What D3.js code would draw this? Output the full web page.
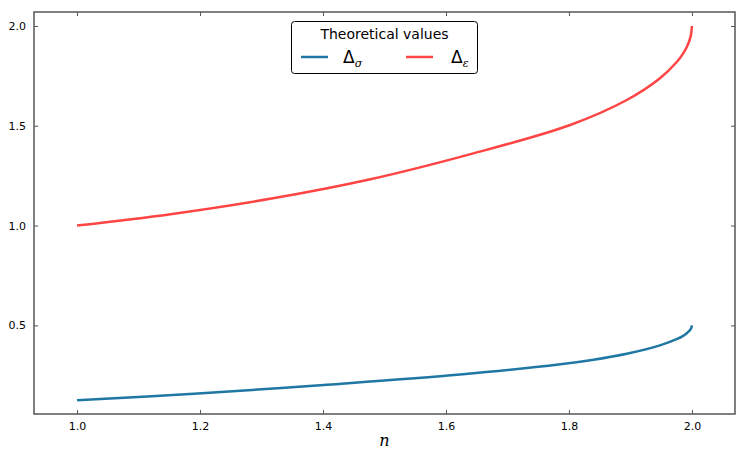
<!DOCTYPE html>
<html>
<head>
<meta charset="utf-8">
<script src="https://cdn.jsdelivr.net/npm/d3@7"></script>
<style>
  body { margin: 0; background: #fff; }
  svg text { font-family: "DejaVu Sans", sans-serif; }
</style>
</head>
<body>
<svg id="chart" width="747" height="462"></svg>
<script>
// values
var nSigma   = [1.0, 1.19, 1.407, 1.623, 1.786, 1.84, 1.894, 1.948, 1.976, 1.985, 1.992, 1.998, 2.0];
var dSigma   = [0.125, 0.157, 0.203, 0.254, 0.305, 0.328, 0.358, 0.400, 0.432, 0.446, 0.462, 0.481, 0.5];
var nEps     = [1.0, 1.152, 1.314, 1.477, 1.64, 1.802, 1.894, 1.948, 1.976, 1.985, 1.992, 1.998, 2.0];
var dEps     = [1.0, 1.057, 1.134, 1.232, 1.358, 1.504, 1.629, 1.738, 1.822, 1.859, 1.897, 1.949, 2.0];
var xTicks   = [1.0, 1.2, 1.4, 1.6, 1.8, 2.0];
var yTicks   = [0.5, 1.0, 1.5, 2.0];
var legendTitle = "Theoretical values";

var svg = d3.select("#chart");
var padL = 34, padR = 735, padT = 12, padB = 414;  // plot box edges in px

var x = d3.scaleLinear().domain([0.93, 2.07]).range([padL, padR]);
var y = d3.scaleLinear().domain([0.056, 2.07]).range([padB, padT]);

var line = d3.line()
  .x(function(d) { return x(d[0]); })
  .y(function(d) { return y(d[1]); })
  .curve(d3.curveCatmullRom.alpha(0.5));

var series = [
  { n: nSigma, v: dSigma, color: "#1f77a4" },
  { n: nEps,   v: dEps,   color: "#ff4444" }
];

series.forEach(function(s) {
  svg.append("path")
    .datum(d3.zip(s.n, s.v))
    .attr("d", line)
    .attr("fill", "none")
    .attr("stroke", s.color)
    .attr("stroke-width", 2.5);
});

// axes, ticks point inward on every side
var axisColor = "#555";
var tickLen = 4;
var bx = svg.append("g").attr("transform", "translate(0," + padB + ")")
  .call(d3.axisBottom(x).tickValues(xTicks).tickFormat(d3.format(".1f")).tickSizeInner(-tickLen).tickSizeOuter(0).tickPadding(8));
var tx = svg.append("g").attr("transform", "translate(0," + padT + ")")
  .call(d3.axisTop(x).tickValues(xTicks).tickFormat("").tickSizeInner(-tickLen).tickSizeOuter(0));
var ly = svg.append("g").attr("transform", "translate(" + padL + ",0)")
  .call(d3.axisLeft(y).tickValues(yTicks).tickFormat(d3.format(".1f")).tickSizeInner(-tickLen).tickSizeOuter(0).tickPadding(8));
var ry = svg.append("g").attr("transform", "translate(" + padR + ",0)")
  .call(d3.axisRight(y).tickValues(yTicks).tickFormat("").tickSizeInner(-tickLen).tickSizeOuter(0));

[bx, tx, ly, ry].forEach(function(g) {
  g.select(".domain").remove();
  g.selectAll(".tick line").attr("stroke", axisColor).attr("stroke-width", 1);
  g.selectAll(".tick text").attr("fill", "#000").style("font-size", "11px").style("font-family", "DejaVu Sans");
});

svg.append("rect")
  .attr("x", padL).attr("y", padT)
  .attr("width", padR - padL).attr("height", padB - padT)
  .attr("fill", "none").attr("stroke", axisColor).attr("stroke-width", 1.5);

// x label
svg.append("text")
  .attr("x", x(1.5)).attr("y", 446)
  .attr("text-anchor", "middle")
  .style("font-family", "DejaVu Serif")
  .style("font-style", "italic")
  .style("font-size", "16px")
  .text("n");

// legend
var leg = svg.append("g");
leg.append("rect")
  .attr("x", 291.5).attr("y", 21.5).attr("width", 186).attr("height", 52).attr("rx", 3)
  .attr("fill", "#fff").attr("stroke", "#000").attr("stroke-width", 1);
leg.append("text")
  .attr("x", 384.5).attr("y", 39)
  .attr("text-anchor", "middle")
  .style("font-size", "14px")
  .text(legendTitle);

var items = [
  { x0: 301, color: series[0].color, sub: "σ", tx: 343 },
  { x0: 406, color: series[1].color, sub: "ε", tx: 451 }
];
items.forEach(function(it) {
  leg.append("line")
    .attr("x1", it.x0).attr("x2", it.x0 + 27)
    .attr("y1", 57).attr("y2", 57)
    .attr("stroke", it.color).attr("stroke-width", 2.5);
  var t = leg.append("text").attr("x", it.tx).attr("y", 63).style("font-size", "17px");
  t.append("tspan").text("Δ");
  t.append("tspan").attr("dy", 4).style("font-size", "11px").style("font-style", "italic")
    .style("font-family", "DejaVu Serif").text(it.sub);
});
</script>
</body>
</html>
